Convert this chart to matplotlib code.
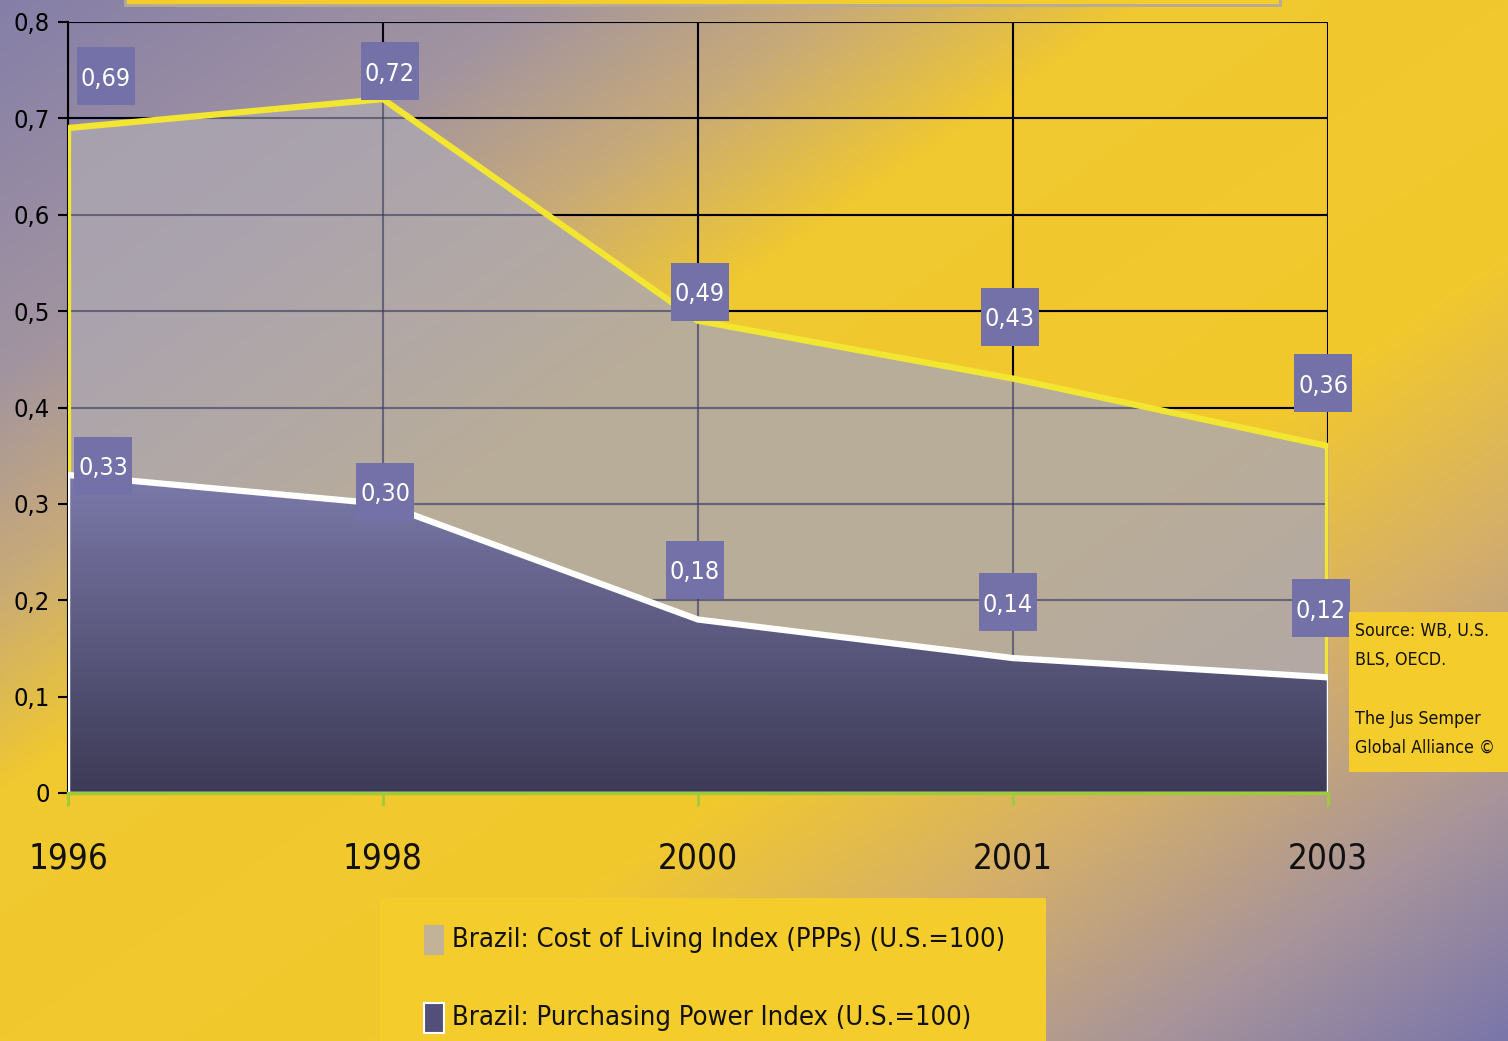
import os
import numpy as np
import matplotlib
matplotlib.use("Agg")
import matplotlib.pyplot as plt
from matplotlib import font_manager as fm
from matplotlib.patches import Rectangle, Polygon
from matplotlib.colors import to_rgb
from matplotlib.transforms import Affine2D, ScaledTranslation

years = ["1996", "1998", "2000", "2001", "2003"]
cost_of_living = [0.69, 0.72, 0.49, 0.43, 0.36]
purchasing_power = [0.33, 0.30, 0.18, 0.14, 0.12]
y_ticks = [0, 0.1, 0.2, 0.3, 0.4, 0.5, 0.6, 0.7, 0.8]
legend_labels = ["Brazil: Cost of Living Index (PPPs) (U.S.=100)",
                 "Brazil: Purchasing Power Index (U.S.=100)"]
source_lines = ["Source: WB, U.S.", "BLS, OECD.", "", "The Jus Semper", "Global Alliance \u00a9"]

# look for a narrow / condensed face, the original uses a condensed sans
narrow = None
for f in fm.fontManager.ttflist:
    fn = os.path.basename(f.fname)
    if ("Condensed" in fn or "Narrow" in fn) and f.style == "normal" and f.weight in (400, "normal"):
        narrow = f
        break
if narrow is not None:
    plt.rcParams["font.family"] = [narrow.name, "DejaVu Sans"]
    plt.rcParams["font.stretch"] = narrow.stretch
else:
    plt.rcParams["font.family"] = ["DejaVu Sans"]

W, H = 1508, 1041
fig = plt.figure(figsize=(W / 100, H / 100), dpi=100)

# diagonal background gradient
bg = fig.add_axes([0, 0, 1, 1], zorder=-5)
bg.axis("off")
xx, yy = np.meshgrid(np.linspace(0, 1, W // 4), np.linspace(0, 1, H // 4))
t = (xx + yy) / 2
stops = [0, 0.18, 0.28, 0.38, 0.62, 0.75, 0.88, 1.0]
cols = ["#857fa8", "#a294a0", "#c8aa78", "#f0c830", "#f2c92c", "#d6b068", "#a8949a", "#7a76aa"]
rgb = np.array([to_rgb(c) for c in cols])
img = np.dstack([np.interp(t, stops, rgb[:, k]) for k in range(3)])
bg.imshow(img, extent=[0, 1, 0, 1], aspect="auto", origin="upper")
bg.set_xlim(0, 1)
bg.set_ylim(0, 1)

# top yellow box (cut off)
fig.patches.append(Rectangle((125 / W, 1 - 5 / H), 1155 / W, 0.02, transform=fig.transFigure,
                             facecolor="#f4cc2c", edgecolor="#b4aa9c", lw=2, zorder=1))

ax = fig.add_axes([68 / W, 1 - 793 / H, 1260 / W, 771 / H])
ax.patch.set_visible(False)
x = np.arange(len(years))
ax.set_xlim(0, len(years) - 1)
ax.set_ylim(0, 0.8)

ax.grid(True, color="black", lw=1.5, zorder=0)
ax.set_axisbelow(True)

# cost of living area, grid shows through a bit
ax.fill_between(x, cost_of_living, color="#aca7b1", alpha=0.82, lw=0, zorder=2)
for yv in y_ticks[1:]:
    ax.axhline(yv, color="#00003c", lw=1.5, alpha=0.27, zorder=2.2)
for xv in x[1:]:
    ax.axvline(xv, color="#00003c", lw=1.5, alpha=0.27, zorder=2.2)
ax.plot(np.r_[x[0], x, x[-1]], np.r_[0, cost_of_living, 0], color="#f2e632", lw=4.5,
        solid_joinstyle="miter", zorder=3)

# purchasing power area with vertical gradient
verts = [(x[0], 0)] + list(zip(x, purchasing_power)) + [(x[-1], 0)]
poly = Polygon(verts, closed=True, facecolor="none", edgecolor="none")
ax.add_patch(poly)
grad = np.linspace(0, 1, 256)[:, None]
top_c, bot_c = np.array(to_rgb("#7c7aaa")), np.array(to_rgb("#3c3a55"))
gimg = (bot_c[None, None, :] * (1 - grad[..., None]) + top_c[None, None, :] * grad[..., None])
im = ax.imshow(gimg, extent=[x[0], x[-1], 0, max(purchasing_power)], aspect="auto",
               origin="lower", zorder=4)
im.set_clip_path(poly)
ax.plot(x, purchasing_power, color="white", lw=4.5, zorder=5)
ax.plot([x[0], x[0], x[-1], x[-1]], [purchasing_power[0], 0, 0, purchasing_power[-1]],
        color="white", lw=2.5, zorder=5)

# value labels in square boxes (offsets in pixels from the data point)
cost_off = [(38, 52), (7, 28), (2, 29), (-3, 62), (-5, 63)]
power_off = [(35, 9), (2, 12), (-3, 50), (-5, 56), (-7, 69)]
BOX = 58
for vals, offs in [(cost_of_living, cost_off), (purchasing_power, power_off)]:
    for xi, v, (ox, oy) in zip(x, vals, offs):
        tr = Affine2D().translate(ox - BOX / 2, oy - BOX / 2) + ScaledTranslation(xi, v, ax.transData)
        ax.add_patch(Rectangle((0, 0), BOX, BOX, transform=tr, facecolor="#7470a8",
                               edgecolor="none", zorder=6, clip_on=False))
        ax.annotate(f"{v:.2f}".replace(".", ","), (xi, v), xytext=(ox, oy),
                    textcoords="offset pixels", ha="center", va="center_baseline",
                    color="white", fontsize=18, zorder=7, annotation_clip=False)

# axes styling
ax.set_xticks(x)
ax.set_xticklabels(years)
ax.set_yticks(y_ticks)
ax.set_yticklabels([("%g" % v).replace(".", ",") for v in y_ticks])
ax.tick_params(axis="y", colors="black", labelsize=21, length=7, width=1.5, pad=6)
ax.tick_params(axis="x", colors="#9ccc3c", labelcolor="#111111", labelsize=30,
               length=9, width=2, pad=26)
for s in ["top", "right"]:
    ax.spines[s].set_visible(False)
ax.spines["left"].set_color("black")
ax.spines["left"].set_linewidth(1.5)
ax.spines["bottom"].set_color("#9ccc3c")
ax.spines["bottom"].set_linewidth(2.5)
ax.spines["bottom"].set_zorder(6)

# legend box
fig.patches.append(Rectangle((380 / W, 0), 666 / W, 143 / H, transform=fig.transFigure,
                             facecolor="#f4cc2c", edgecolor="none", zorder=1))
sw_cols = ["#c2b298", "#52507a"]
sw_edges = ["none", "white"]
legend_texts = []
for i, (lab, c, e) in enumerate(zip(legend_labels, sw_cols, sw_edges)):
    yc = 940 + i * 78
    fig.patches.append(Rectangle((424 / W, 1 - (yc + 15) / H), 20 / W, 30 / H,
                                 transform=fig.transFigure, facecolor=c, edgecolor=e,
                                 lw=1.5, zorder=2))
    legend_texts.append(fig.text(452 / W, 1 - yc / H, lab, fontsize=24, va="center", ha="left",
                                 color="#111111", zorder=3))

# source box
fig.patches.append(Rectangle((1349 / W, 1 - 772 / H), 159 / W, 160 / H, transform=fig.transFigure,
                             facecolor="#f4cc2c", edgecolor="none", zorder=1))
src = fig.text(1355 / W, 1 - 622 / H, "\n".join(source_lines), fontsize=15, va="top", ha="left",
               color="#111111", linespacing=1.8, zorder=3)

# shrink texts towards the widths seen in the original
fig.canvas.draw()
r = fig.canvas.get_renderer()


def scale_for(texts, target, strength=1.0):
    w = max(tt.get_window_extent(r).width for tt in texts)
    return min(1.0, (target / w) ** strength)


k = scale_for(legend_texts[:1], 555)
for tt in legend_texts:
    tt.set_fontsize(tt.get_fontsize() * k)
k = scale_for([src], 140)
src.set_fontsize(src.get_fontsize() * k)
k = scale_for(ax.get_xticklabels()[:1], 71, 0.6)
ax.tick_params(axis="x", labelsize=30 * k)
k = scale_for(ax.get_yticklabels()[-1:], 33, 0.6)
ax.tick_params(axis="y", labelsize=21 * k)

fig.savefig("out.png", dpi=100)
